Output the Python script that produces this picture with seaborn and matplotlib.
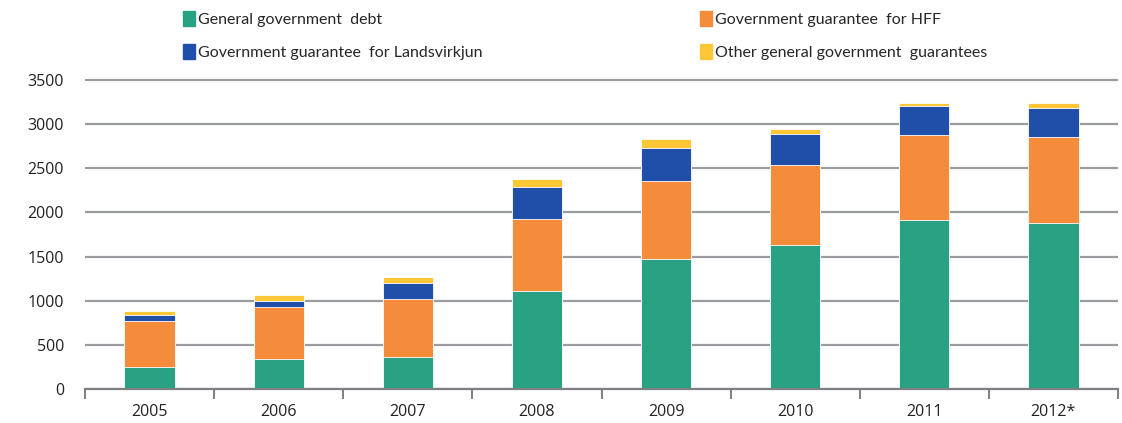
import numpy as np
import pandas as pd
import matplotlib
matplotlib.use('Agg')
import matplotlib.pyplot as plt
import matplotlib.patches as mpatches
from matplotlib.font_manager import FontProperties
import seaborn as sns

# data
years = ['2005', '2006', '2007', '2008', '2009', '2010', '2011', '2012*']
gov_debt = [252, 343, 366, 1109, 1472, 1627, 1917, 1876]
hff = [518, 585, 653, 816, 883, 905, 955, 974]
landsvirkjun = [68, 68, 181, 358, 377, 358, 335, 335]
other = [45, 68, 68, 91, 95, 50, 27, 49]

labels = ['General government  debt', 'Government guarantee  for HFF',
          'Government guarantee  for Landsvirkjun', 'Other general government  guarantees']
colors = ['#28a282', '#f58c3b', '#1f4fa8', '#ffc735']

df = pd.DataFrame({'year': years, 'debt': gov_debt, 'hff': hff,
                   'lands': landsvirkjun, 'other': other})
# cumulative stacks, drawn tallest first
df['c1'] = df['debt']
df['c2'] = df['c1'] + df['hff']
df['c3'] = df['c2'] + df['lands']
df['c4'] = df['c3'] + df['other']

sns.set_style('white')
plt.rcParams['font.family'] = ['Open Sans', 'DejaVu Sans']

fig = plt.figure(figsize=(11.22, 4.23), dpi=100)
ax = fig.add_axes([0.0758, 0.0804, 0.9206, 0.7369])

for col, c in zip(['c4', 'c3', 'c2', 'c1'], colors[::-1]):
    sns.barplot(data=df, x='year', y=col, color=c, width=0.39, ax=ax,
                saturation=1, edgecolor='white', linewidth=0.6, zorder=3)

ax.set_ylim(0, 3530)
ax.set_xlim(-0.5, 7.5)
ax.set_yticks(np.arange(0, 3501, 500))
ax.yaxis.grid(True, color='#9a9ca0', linewidth=1.6, zorder=0)
ax.set_axisbelow(True)
ax.set_xlabel('')
ax.set_ylabel('')
for s in ['left', 'right', 'top']:
    ax.spines[s].set_visible(False)
ax.spines['bottom'].set_color('#7d7f83')
ax.spines['bottom'].set_linewidth(1.6)
ax.spines['bottom'].set_zorder(4)

# category separators below the axis
ax.set_xticks(np.arange(-0.5, 8, 1), minor=True)
ax.tick_params(axis='x', which='minor', bottom=True, length=7, width=1.4,
               color='#7d7f83', direction='out')
ax.tick_params(axis='x', which='major', length=0, pad=11, labelsize=11.5, labelcolor='#222222')
ax.tick_params(axis='y', length=0, pad=15, labelsize=11.5, labelcolor='#222222')

handles = [mpatches.Patch(color=colors[i], label=labels[i]) for i in [0, 2, 1, 3]]
fig.legend(handles=handles, ncol=2, loc='upper left', bbox_to_anchor=(0.150, 1.008),
           frameon=False, handlelength=0.8, handleheight=1.1, handletextpad=0.15,
           columnspacing=13.6, labelspacing=1.05,
           prop=FontProperties(family=['Lato', 'DejaVu Sans'], size=11.5))

fig.savefig('out.png', dpi=100)
